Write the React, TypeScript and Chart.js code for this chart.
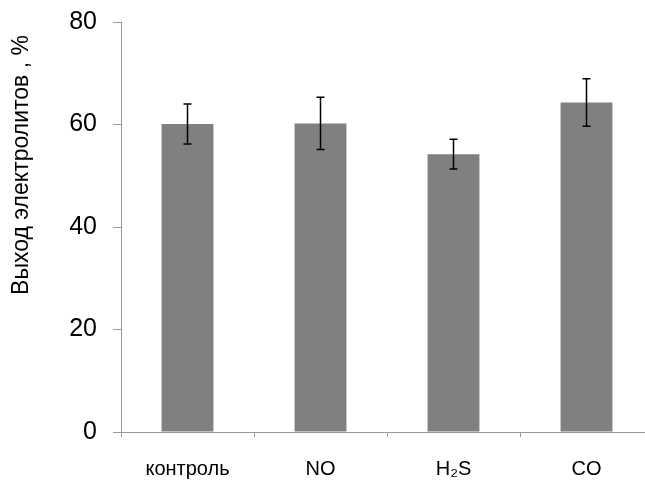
import React, { useEffect, useRef } from 'react';
import { Chart, registerables } from 'chart.js';

Chart.register(...registerables);

const categories = ['контроль', 'NO', 'H₂S', 'CO'];
const values = [60.1, 60.2, 54.2, 64.3];
const errors = [3.9, 5.1, 2.9, 4.65];
const yMin = 0;
const yMax = 80;
const yStep = 20;
const yTitle = 'Выход электролитов , %';

const FONT = '"Liberation Sans", Arial, sans-serif';

const errorBarPlugin = {
  id: 'errorBars',
  afterDatasetsDraw(chart: any) {
    const meta = chart.getDatasetMeta(0);
    const y = chart.scales.y;
    const ctx = chart.ctx;
    ctx.save();
    ctx.strokeStyle = '#000000';
    ctx.lineWidth = 1.5;
    meta.data.forEach((bar: any, i: number) => {
      const x = bar.x;
      const top = y.getPixelForValue(values[i] + errors[i]);
      const bot = y.getPixelForValue(values[i] - errors[i]);
      ctx.beginPath();
      ctx.moveTo(x, top);
      ctx.lineTo(x, bot);
      ctx.moveTo(x - 4, top);
      ctx.lineTo(x + 4, top);
      ctx.moveTo(x - 4, bot);
      ctx.lineTo(x + 4, bot);
      ctx.stroke();
    });
    ctx.restore();
  },
};

const titlePlugin = {
  id: 'yTitleText',
  afterDraw(chart: any) {
    const ctx = chart.ctx;
    ctx.save();
    ctx.translate(28, 165);
    ctx.rotate(-Math.PI / 2);
    ctx.font = `23px ${FONT}`;
    ctx.fillStyle = '#000000';
    ctx.textAlign = 'center';
    ctx.textBaseline = 'alphabetic';
    ctx.fillText(yTitle, 0, 0);
    ctx.restore();
  },
};

export default function App() {
  const ref = useRef<HTMLCanvasElement | null>(null);

  useEffect(() => {
    if (!ref.current) return;
    const chart = new Chart(ref.current, {
      type: 'bar',
      data: {
        labels: categories,
        datasets: [
          {
            data: values,
            backgroundColor: '#808080',
            borderWidth: 0,
            barPercentage: 0.39,
            categoryPercentage: 1,
          },
        ],
      },
      options: {
        animation: false,
        responsive: false,
        maintainAspectRatio: false,
        layout: { padding: { top: 22, right: 7, left: 0, bottom: 0 } },
        plugins: {
          legend: { display: false },
          tooltip: { enabled: false },
        },
        scales: {
          x: {
            grid: {
              display: true,
              drawOnChartArea: false,
              drawTicks: true,
              tickLength: 5,
              color: '#999999',
              offset: true,
            },
            border: { display: true, color: '#999999', width: 1 },
            ticks: {
              color: '#000000',
              font: { family: FONT, size: 20 },
              padding: 20,
            },
            afterFit(scale: any) {
              scale.height = 48;
              scale.paddingLeft = 0;
              scale.paddingRight = 0;
            },
          },
          y: {
            min: yMin,
            max: yMax,
            grid: {
              display: true,
              drawOnChartArea: false,
              drawTicks: true,
              tickLength: 8,
              color: '#999999',
            },
            border: { display: true, color: '#999999', width: 1 },
            ticks: {
              stepSize: yStep,
              color: '#000000',
              font: { family: FONT, size: 25 },
              padding: 16,
            },
            afterFit(scale: any) {
              scale.width = 121;
              scale.paddingTop = 0;
              scale.paddingBottom = 0;
            },
          },
        },
      },
      plugins: [errorBarPlugin, titlePlugin],
    });
    return () => chart.destroy();
  }, []);

  return (
    <div style={{ position: 'fixed', left: 0, top: 0, width: 645, height: 480, overflow: 'hidden', background: '#fff' }}>
      <canvas ref={ref} width={660} height={480} style={{ display: 'block', width: 660, height: 480 }} />
    </div>
  );
}
